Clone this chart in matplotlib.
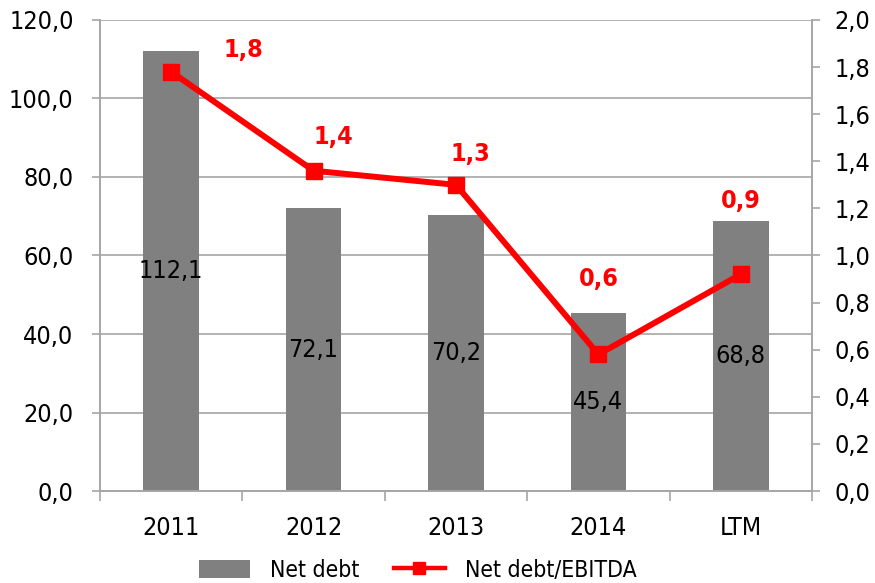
import matplotlib.pyplot as plt
from matplotlib import font_manager
from matplotlib.lines import Line2D
import numpy as np

# data
categories = ['2011', '2012', '2013', '2014', 'LTM']
net_debt = [112.1, 72.1, 70.2, 45.4, 68.8]
ratio = [1.78, 1.36, 1.30, 0.58, 0.92]
ratio_labels = ['1,8', '1,4', '1,3', '0,6', '0,9']

# label offsets (points) for the red labels
lab_dx = [52, 14, 10, 0, 0]
lab_dy = [16, 24, 22, 54, 53]

# narrow font, close to Tahoma
plt.rcParams['font.family'] = ['DejaVu Sans']
plt.rcParams['font.stretch'] = 'condensed'
f = font_manager.findfont(font_manager.FontProperties(family='DejaVu Sans', stretch='condensed'))
if 'Condensed' not in f:
    plt.rcParams['font.family'] = ['Liberation Sans']
    plt.rcParams['font.stretch'] = 'normal'

fs = 18
grey = '#808080'
axis_grey = '#a6a6a6'
red = '#ff0000'

fig = plt.figure(figsize=(8.75, 5.83), dpi=100)
ax = fig.add_axes([0.1143, 0.1578, 0.8137, 0.8079])
ax2 = ax.twinx()

x = np.arange(len(categories))
bars = ax.bar(x, net_debt, width=0.39, color=grey, zorder=2, label='Net debt')

# bar labels centred in the bar
for xi, v in zip(x, net_debt):
    ax.text(xi, v / 2, f'{v:.1f}'.replace('.', ','), ha='center', va='center',
            fontsize=fs, color='black', zorder=3)

ax.set_xlim(-0.5, len(categories) - 0.5)
ax.set_ylim(0, 120)
ax.set_yticks(np.arange(0, 121, 20))
ax.set_yticklabels([f'{v:.1f}'.replace('.', ',') for v in np.arange(0, 121, 20)])
ax.yaxis.grid(True, color=axis_grey, linewidth=1.2, zorder=0)
ax.set_axisbelow(True)

ax.set_xticks(x)
ax.set_xticklabels(categories)
ax.set_xticks(np.arange(-0.5, len(categories)), minor=True)
ax.tick_params(axis='x', which='major', length=0, labelsize=fs, pad=18)
ax.tick_params(axis='x', which='minor', length=7, color=axis_grey, width=1.2)
ax.tick_params(axis='y', length=6, color=axis_grey, width=1.2, labelsize=fs, pad=13)

# line on secondary axis
ax2.plot(x, ratio, color=red, linewidth=4.3, marker='s', markersize=11, zorder=4)
for xi, v, lab, dx, dy in zip(x, ratio, ratio_labels, lab_dx, lab_dy):
    ax2.annotate(lab, (xi, v), xytext=(dx, dy), textcoords='offset points',
                 ha='center', va='center', fontsize=fs, fontweight='bold',
                 color=red)

ax2.set_ylim(0, 2.0)
ax2.set_yticks(np.arange(0, 2.01, 0.2))
ax2.set_yticklabels([f'{v:.1f}'.replace('.', ',') for v in np.arange(0, 2.01, 0.2)])
ax2.tick_params(axis='y', length=6, color=axis_grey, width=1.2, labelsize=fs, pad=10)

for a in (ax, ax2):
    a.spines['top'].set_visible(False)
    for s in ('left', 'right', 'bottom'):
        a.spines[s].set_color(axis_grey)
        a.spines[s].set_linewidth(1.2)

leg_line = Line2D([], [], color=red, linewidth=3.2, marker='s', markersize=8)
fig.legend(handles=[bars, leg_line], labels=['Net debt', 'Net debt/EBITDA'],
           loc='center', bbox_to_anchor=(0.478, 0.022),
           ncol=2, frameon=False, fontsize=16.5, handlelength=2.2, columnspacing=1.5,
           handletextpad=0.9, handleheight=0.85)

fig.savefig('out.png', dpi=100)
